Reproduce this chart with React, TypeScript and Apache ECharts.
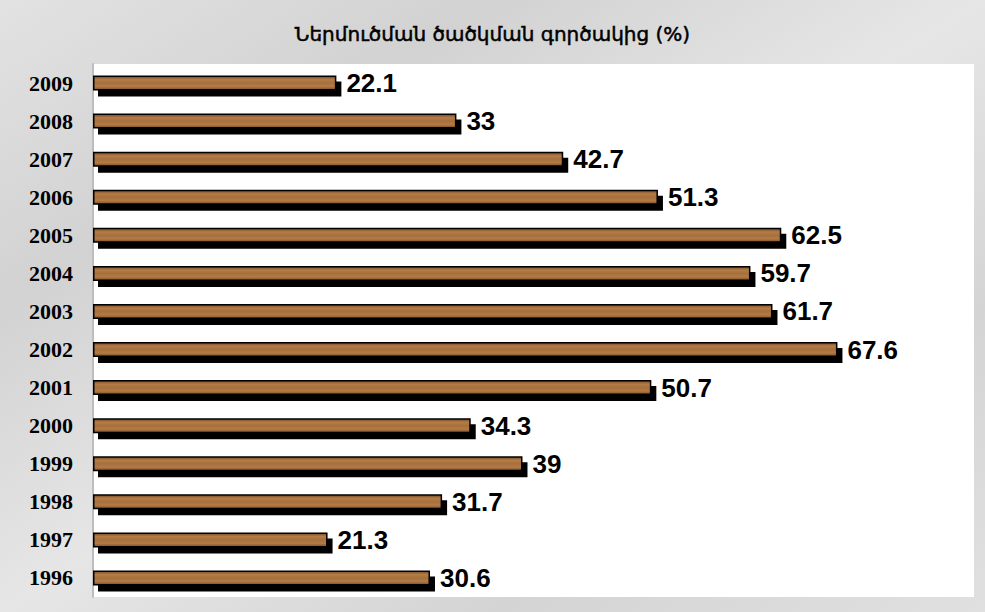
import React, { useEffect, useRef } from "react";
import * as echarts from "echarts";

const titleText = "Ներմուծման ծածկման գործակից (%)";
const years = ["1996", "1997", "1998", "1999", "2000", "2001", "2002", "2003", "2004", "2005", "2006", "2007", "2008", "2009"];
const ratios = [30.6, 21.3, 31.7, 39, 34.3, 50.7, 67.6, 61.7, 59.7, 62.5, 51.3, 42.7, 33, 22.1];

export default function App() {
  const ref = useRef<HTMLDivElement>(null);
  useEffect(() => {
    if (!ref.current) return;
    const chart = echarts.init(ref.current, undefined, { renderer: "svg" });
    chart.setOption({
      animation: false,
      backgroundColor: new echarts.graphic.LinearGradient(0, 0, 1, 1, [
        { offset: 0, color: "#e2e2e2" },
        { offset: 0.25, color: "#d2d2d2" },
        { offset: 0.5, color: "#e6e6e6" },
        { offset: 0.75, color: "#d4d4d4" },
        { offset: 1, color: "#e0e0e0" },
      ]),
      title: {
        text: titleText,
        left: "center",
        top: 19,
        textStyle: {
          fontFamily: "DejaVu Sans",
          fontSize: 20,
          fontWeight: "normal",
          color: "#000",
          textBorderColor: "#000",
          textBorderWidth: 0.5,
        },
      },
      grid: {
        left: 93,
        right: 11,
        top: 64,
        bottom: 15,
        show: true,
        backgroundColor: "#ffffff",
        borderWidth: 0,
      },
      xAxis: {
        type: "value",
        min: 0,
        max: 80,
        show: false,
        splitLine: { show: false },
      },
      yAxis: {
        type: "category",
        data: years,
        axisTick: { show: false },
        axisLine: { show: true, lineStyle: { color: "#bdbdbd", width: 2 } },
        axisLabel: {
          margin: 20,
          fontFamily: "Liberation Serif",
          fontWeight: "bold",
          fontSize: 22,
          color: "#000",
        },
      },
      series: [
        {
          type: "bar",
          data: ratios,
          barWidth: 15,
          itemStyle: {
            color: new echarts.graphic.LinearGradient(0, 0, 0, 1, [
              { offset: 0, color: "#7a4c26" },
              { offset: 0.25, color: "#b47c47" },
              { offset: 0.5, color: "#a66f3d" },
              { offset: 0.75, color: "#b37b46" },
              { offset: 1, color: "#7e5029" },
            ]),
            borderColor: "#000",
            borderWidth: 1.5,
            shadowColor: "#000",
            shadowBlur: 0,
            shadowOffsetX: 5,
            shadowOffsetY: 6,
          },
          label: {
            show: true,
            position: "right",
            distance: 10,
            fontFamily: "Liberation Sans",
            fontWeight: "bold",
            fontSize: 26,
            color: "#000",
          },
        },
      ],
    });
    return () => chart.dispose();
  }, []);
  return (
    <div style={{ position: "absolute", left: 0, top: 0 }}>
      <div ref={ref} style={{ width: 985, height: 612 }} />
    </div>
  );
}
